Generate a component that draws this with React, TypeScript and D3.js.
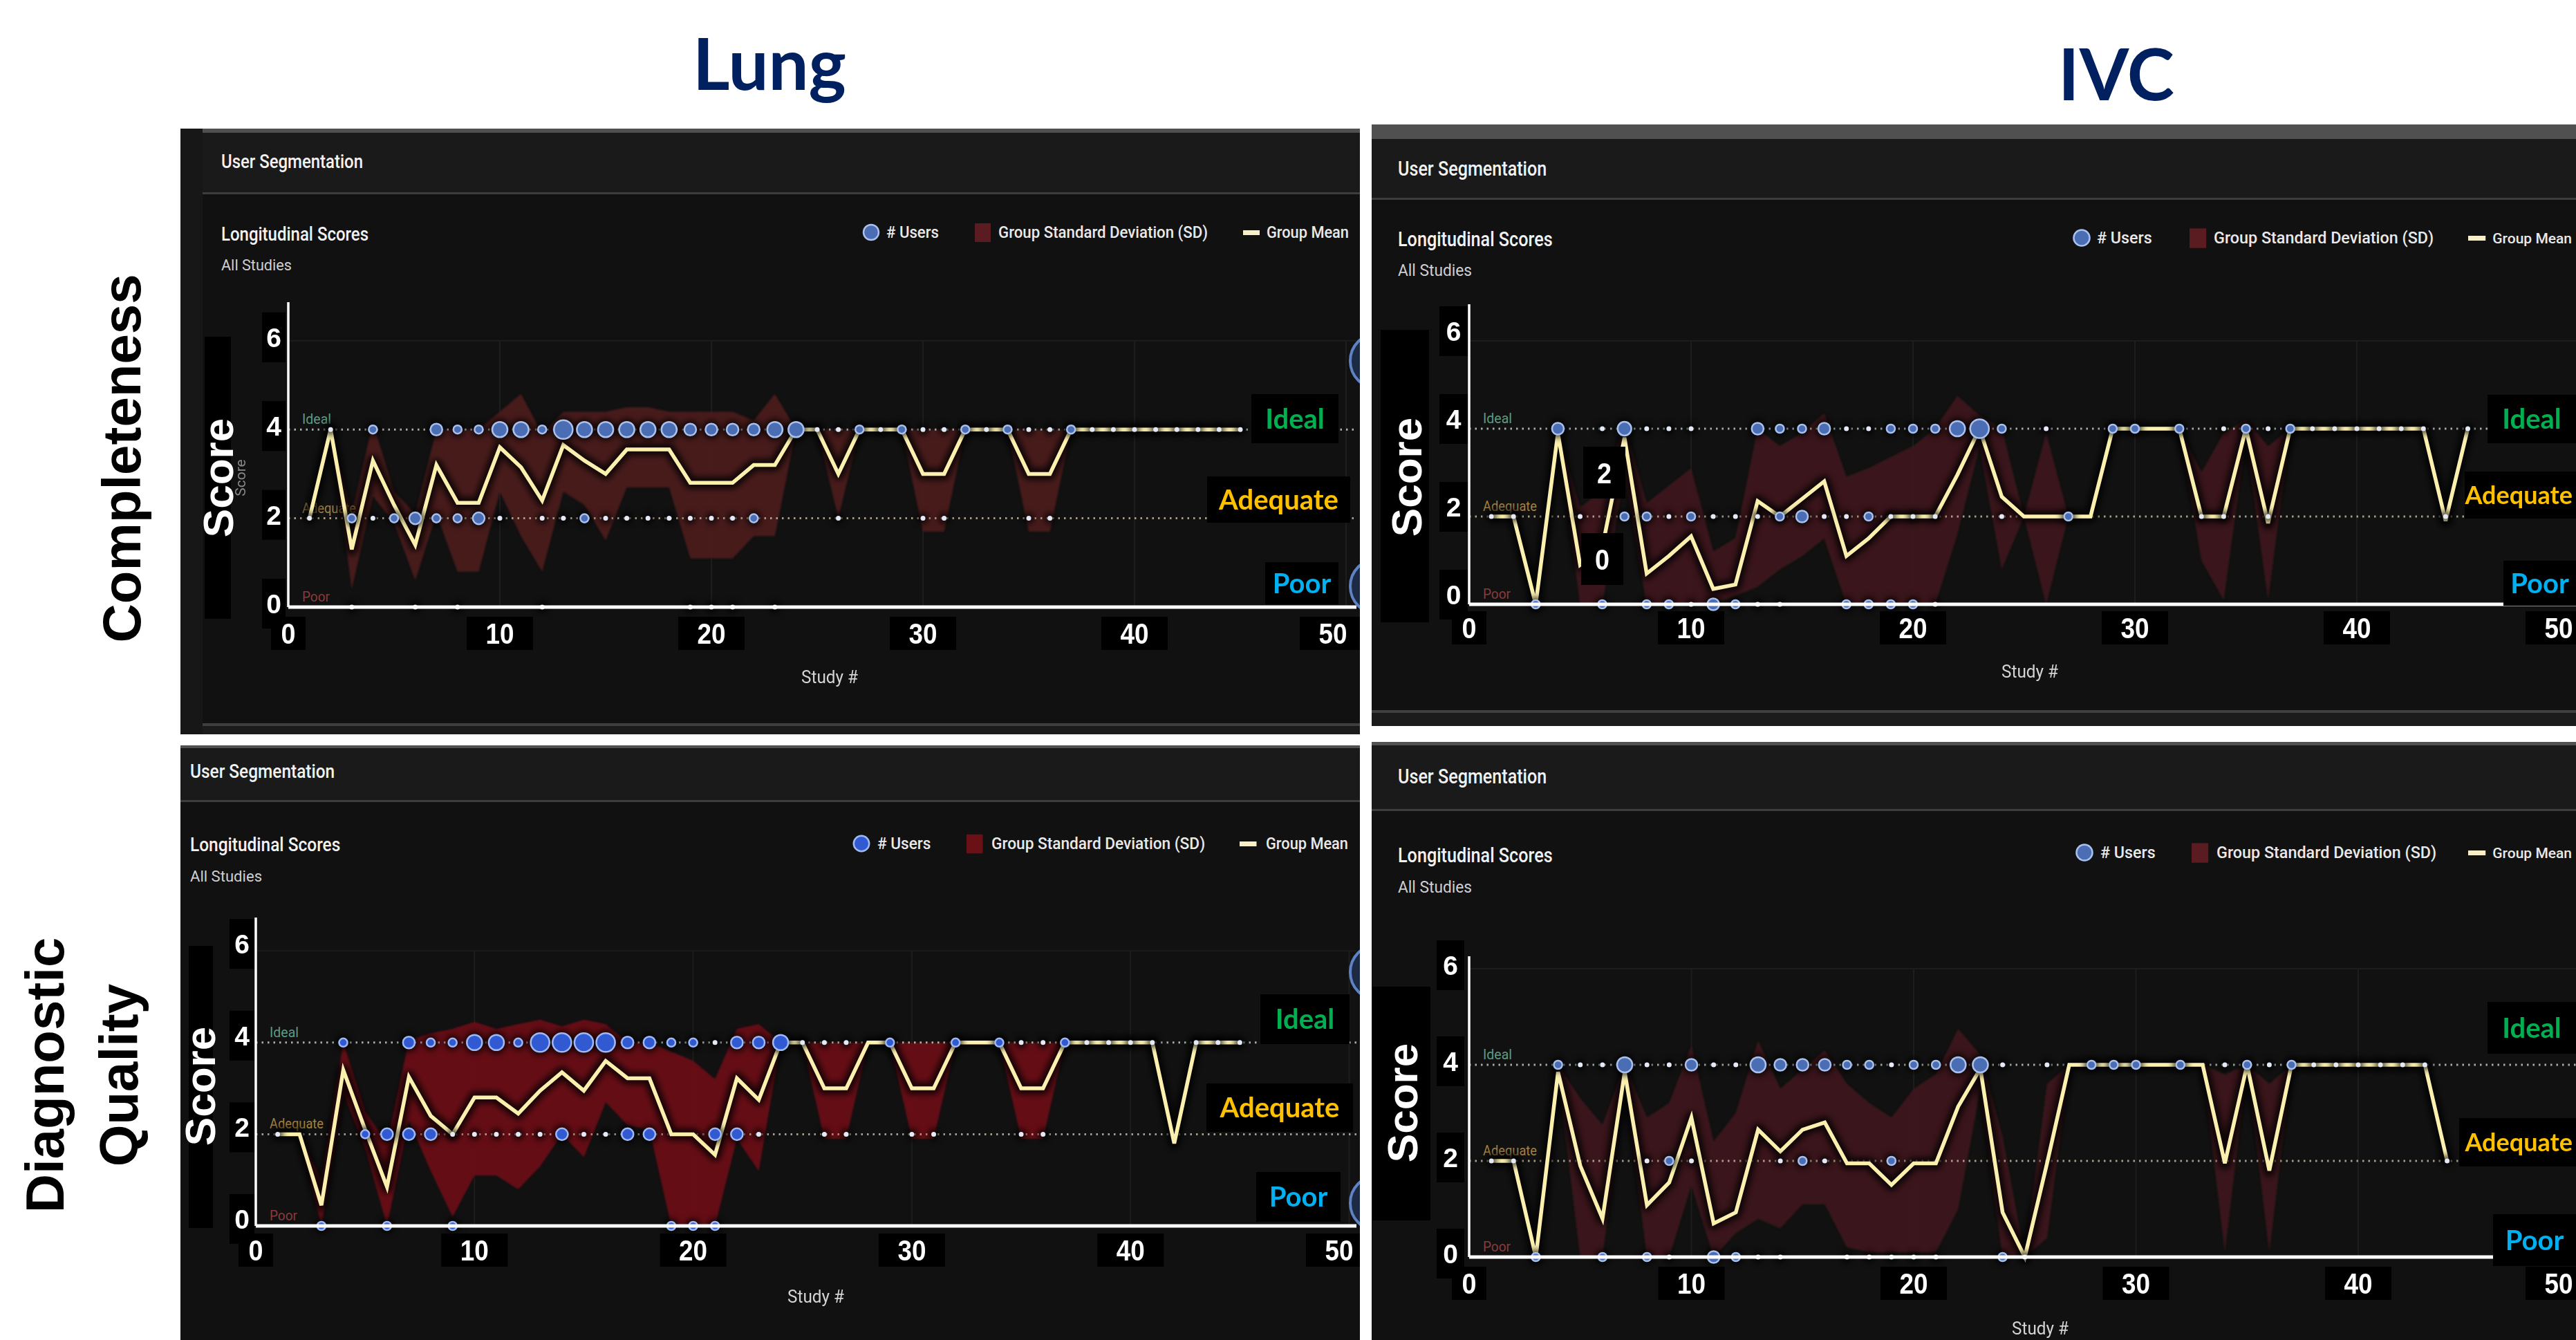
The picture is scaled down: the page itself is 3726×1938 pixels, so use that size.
import React from 'react';
import * as d3 from 'd3';

const W = 3726;
const H = 1938;

// ---------------- DATA (study # = index + 1) ----------------
// Lung – Completeness
const lungCompMean = [2.0, 4.0, 1.3, 3.3, 2.3, 1.4, 3.2, 2.35, 2.35, 3.6, 3.15, 2.4, 3.65, 3.3, 3.0, 3.55, 3.55, 3.55, 2.8, 2.8, 2.8, 3.2, 3.2, 4.0, 4.0, 3.0, 4.0, 4.0, 4.0, 3.0, 3.0, 4.0, 4.0, 4.0, 3.0, 3.0, 4.0, 4.0, 4.0, 4.0, 4.0, 4.0, 4.0, 4.0, 4.0];
const lungCompLo = [2.0, 4.0, 0.4, 2.5, 1.9, 0.6, 2.1, 0.8, 0.8, 2.6, 1.6, 0.8, 2.6, 2.3, 1.5, 2.7, 2.7, 2.7, 1.1, 1.1, 1.1, 1.6, 1.6, 4.0, 4.0, 2.0, 4.0, 4.0, 4.0, 1.7, 1.7, 4.0, 4.0, 4.0, 1.7, 1.7, 4.0, 4.0, 4.0, 4.0, 4.0, 4.0, 4.0, 4.0, 4.0];
const lungCompHi = [2.0, 4.0, 2.1, 4.15, 2.6, 2.1, 4.0, 4.0, 4.0, 4.4, 4.8, 3.9, 4.4, 4.4, 4.4, 4.5, 4.5, 4.4, 4.4, 4.4, 4.4, 4.2, 4.8, 4.0, 4.0, 4.0, 4.0, 4.0, 4.0, 4.0, 4.0, 4.0, 4.0, 4.0, 4.0, 4.0, 4.0, 4.0, 4.0, 4.0, 4.0, 4.0, 4.0, 4.0, 4.0];
const lungCompUsersIdeal = [0, 1, 0, 3, 0, 0, 6, 3, 3, 10, 10, 3, 15, 10, 10, 10, 10, 10, 6, 6, 6, 6, 10, 10, 1, 1, 3, 1, 3, 1, 1, 3, 1, 3, 1, 1, 3, 1, 1, 1, 1, 1, 1, 1, 1];
const lungCompUsersAdequate = [1, 0, 3, 1, 3, 6, 3, 3, 6, 1, 0, 1, 1, 3, 1, 1, 1, 1, 1, 1, 1, 3, 0, 0, 0, 1, 0, 0, 0, 1, 1, 0, 0, 0, 1, 1, 0, 0, 0, 0, 0, 0, 0, 0, 0];
const lungCompUsersPoor = [0, 0, 1, 0, 0, 1, 0, 1, 0, 0, 0, 1, 0, 0, 0, 0, 0, 0, 1, 1, 1, 0, 1, 0, 0, 0, 0, 0, 0, 0, 0, 0, 0, 0, 0, 0, 0, 0, 0, 0, 0, 0, 0, 0, 0];

// IVC – Completeness
const ivcCompMean = [2.0, 2.0, 0.0, 3.9, 0.9, 1.3, 3.8, 0.7, 1.1, 1.55, 0.35, 0.45, 2.35, 2.0, 2.4, 2.8, 1.1, 1.5, 2.0, 2.0, 2.0, 2.95, 4.0, 2.45, 2.0, 2.0, 2.0, 2.0, 4.0, 4.0, 4.0, 4.0, 2.0, 2.0, 4.0, 1.85, 4.0, 4.0, 4.0, 4.0, 4.0, 4.0, 4.0, 1.9, 4.0];
const ivcCompLo = [2.0, 2.0, 0.0, 3.9, 0.0, 0.0, 3.0, 0.0, 0.0, 0.0, 0.0, 0.2, 0.4, 0.8, 1.1, 1.5, 0.0, 0.0, 0.0, 0.0, 0.0, 1.6, 3.6, 0.8, 2.0, 0.0, 2.0, 2.0, 4.0, 4.0, 4.0, 4.0, 1.0, 0.1, 3.8, 0.1, 4.0, 4.0, 4.0, 4.0, 4.0, 4.0, 4.0, 1.9, 4.0];
const ivcCompHi = [2.0, 2.0, 0.0, 3.9, 2.2, 2.6, 4.1, 2.3, 2.7, 3.1, 1.2, 1.5, 4.0, 3.6, 3.9, 4.35, 2.9, 3.1, 3.35, 3.6, 4.0, 4.75, 4.3, 4.0, 2.0, 3.9, 2.0, 2.0, 4.0, 4.0, 4.0, 4.0, 3.0, 3.9, 4.2, 3.6, 4.0, 4.0, 4.0, 4.0, 4.0, 4.0, 4.0, 1.9, 4.0];
const ivcCompUsersIdeal = [0, 0, 0, 6, 0, 1, 8, 1, 1, 1, 0, 0, 6, 3, 3, 6, 1, 1, 3, 3, 3, 10, 15, 3, 0, 1, 0, 0, 3, 3, 0, 3, 0, 1, 3, 1, 3, 1, 1, 1, 1, 1, 1, 0, 1];
const ivcCompUsersAdequate = [1, 1, 0, 0, 1, 0, 3, 3, 1, 3, 1, 1, 1, 3, 6, 1, 1, 3, 1, 1, 1, 0, 0, 1, 0, 0, 3, 0, 0, 0, 0, 0, 1, 1, 0, 1, 0, 0, 0, 0, 0, 0, 0, 1, 0];
const ivcCompUsersPoor = [0, 0, 3, 0, 0, 3, 0, 3, 3, 1, 6, 3, 1, 1, 0, 0, 3, 3, 3, 3, 1, 0, 0, 0, 0, 0, 0, 0, 0, 0, 0, 0, 0, 0, 0, 0, 0, 0, 0, 0, 0, 0, 0, 0, 0];

// Lung – Diagnostic Quality
const lungDqMean = [2.0, 2.0, 0.45, 3.4, 2.1, 0.85, 3.25, 2.4, 2.0, 2.8, 2.8, 2.45, 2.95, 3.35, 2.95, 3.6, 3.22, 3.22, 2.0, 2.0, 1.55, 3.22, 2.75, 4.0, 4.0, 3.0, 3.0, 4.0, 4.0, 3.0, 3.0, 4.0, 4.0, 4.0, 3.0, 3.0, 4.0, 4.0, 4.0, 4.0, 4.0, 1.8, 4.0, 4.0, 4.0];
const lungDqLo = [2.0, 2.0, 0.0, 2.9, 1.7, 0.0, 2.3, 1.2, 0.2, 1.1, 1.1, 0.8, 1.3, 2.0, 1.5, 2.7, 2.2, 2.1, 0.0, 0.0, 0.0, 1.9, 1.2, 4.0, 4.0, 1.9, 1.9, 4.0, 4.0, 1.9, 1.9, 4.0, 4.0, 4.0, 1.9, 1.9, 4.0, 4.0, 4.0, 4.0, 4.0, 1.8, 4.0, 4.0, 4.0];
const lungDqHi = [2.0, 2.0, 1.0, 4.0, 2.5, 1.8, 4.05, 4.2, 4.3, 4.45, 4.3, 4.4, 4.5, 4.35, 4.5, 4.4, 4.0, 4.0, 3.8, 3.6, 3.2, 4.3, 4.4, 4.0, 4.0, 4.0, 4.0, 4.0, 4.0, 4.0, 4.0, 4.0, 4.0, 4.0, 4.0, 4.0, 4.0, 4.0, 4.0, 4.0, 4.0, 1.8, 4.0, 4.0, 4.0];
const lungDqUsersIdeal = [0, 0, 0, 3, 0, 0, 6, 3, 3, 10, 10, 3, 15, 15, 15, 15, 6, 6, 3, 3, 1, 6, 6, 10, 1, 1, 1, 0, 3, 0, 0, 3, 0, 3, 1, 1, 3, 1, 1, 1, 1, 0, 1, 1, 1];
const lungDqUsersAdequate = [1, 0, 0, 0, 3, 6, 6, 6, 1, 1, 1, 1, 1, 6, 1, 1, 6, 6, 0, 0, 6, 6, 1, 0, 0, 1, 1, 0, 0, 1, 1, 0, 0, 0, 1, 1, 0, 0, 0, 0, 0, 0, 0, 0, 0];
const lungDqUsersPoor = [0, 0, 3, 0, 0, 3, 0, 0, 3, 0, 0, 0, 0, 0, 0, 0, 0, 0, 3, 3, 3, 0, 0, 0, 0, 0, 0, 0, 0, 0, 0, 0, 0, 0, 0, 0, 0, 0, 0, 0, 0, 0, 0, 0, 0];

// IVC – Diagnostic Quality
const ivcDqMean = [2.0, 2.0, 0.0, 3.85, 1.9, 0.8, 3.85, 1.08, 1.55, 2.9, 0.7, 0.93, 2.65, 2.2, 2.65, 2.8, 1.95, 1.95, 1.5, 1.95, 1.95, 3.13, 3.92, 0.93, 0.0, 1.95, 4.0, 4.0, 4.0, 4.0, 4.0, 4.0, 4.0, 1.95, 4.0, 1.8, 4.0, 4.0, 4.0, 4.0, 4.0, 4.0, 4.0, 2.0];
const ivcDqLo = [2.0, 2.0, 0.0, 3.8, 0.0, 0.0, 3.7, 0.0, 0.0, 1.5, 0.0, 0.5, 0.8, 0.6, 1.1, 1.1, 0.2, 0.1, 0.1, 0.1, 0.1, 1.0, 3.5, 0.0, 0.0, 0.4, 4.0, 4.0, 4.0, 4.0, 4.0, 4.0, 4.0, 0.1, 4.0, 0.1, 4.0, 4.0, 4.0, 4.0, 4.0, 4.0, 4.0, 2.0];
const ivcDqHi = [2.0, 2.0, 0.0, 4.0, 3.3, 2.75, 4.0, 2.9, 3.2, 4.4, 2.4, 3.0, 4.5, 3.5, 3.9, 4.3, 3.6, 3.2, 2.9, 3.5, 3.8, 4.75, 4.2, 2.5, 0.0, 3.6, 4.0, 4.0, 4.0, 4.0, 4.0, 4.0, 4.0, 3.8, 4.0, 3.6, 4.0, 4.0, 4.0, 4.0, 4.0, 4.0, 4.0, 2.0];
const ivcDqUsersIdeal = [0, 0, 0, 3, 1, 1, 10, 1, 1, 6, 1, 1, 10, 6, 6, 6, 3, 3, 1, 3, 3, 10, 10, 1, 0, 1, 0, 3, 3, 3, 0, 3, 0, 1, 3, 1, 3, 1, 1, 1, 1, 1, 1, 0];
const ivcDqUsersAdequate = [1, 1, 0, 0, 0, 0, 0, 1, 3, 1, 0, 0, 0, 1, 3, 1, 0, 0, 3, 0, 0, 0, 0, 0, 0, 0, 0, 0, 0, 0, 0, 0, 0, 0, 0, 0, 0, 0, 0, 0, 0, 0, 0, 1];
const ivcDqUsersPoor = [0, 0, 3, 0, 0, 3, 0, 3, 1, 0, 6, 3, 1, 1, 0, 0, 1, 1, 1, 1, 1, 0, 0, 3, 1, 0, 0, 0, 0, 0, 0, 0, 0, 0, 0, 0, 0, 0, 0, 0, 0, 0, 0, 0];

const xTicks = [0, 10, 20, 30, 40, 50];
const yTicks = [0, 2, 4, 6];
const levelValues = [4, 2, 0];
const levelNames = ['Ideal', 'Adequate', 'Poor'];
const levelColors = ['#00b050', '#ffc000', '#00b0f0'];
const inlineColors = ['#5d9a84', '#a3803f', '#8a3a3c'];
const legendLabels = ['# Users', 'Group Standard Deviation (SD)', 'Group Mean'];
const columnTitles = ['Lung', 'IVC'];
const rowTitleTop = ['Completeness'];
const rowTitleBottom = ['Diagnostic', 'Quality'];

// ---------------- LAYOUT ----------------
type Box = [number, number, number, number];
type Cfg = {
  id: string; px: number; py: number; pw: number; ph: number; strip: number; topBand: number; headerBottom: number;
  bottomLine: number | null;
  textX: number; usBase: number; lsBase: number; asBase: number; s: number;
  legBase: number; legCx: number; legCy: number; usersX: number; sdSwX: number; sdTextX: number; meanSwX: number; meanTextX: number;
  x0: number; sp: number; y0: number; unit: number; axisTop: number; plotRight: number;
  scoreBox: Box; scoreBase: number; scoreCy: number; smallScore: boolean;
  yBoxX: number; yBoxW: number; yOff: number; xTickCy: number; lastTickX: number;
  studyX: number; studyY: number; boxes: Box[]; atEdge: boolean;
  band: string; bubble: string; bubbleStroke: string;
  edgeCircles: number[]; extraBoxes: { box: Box; label: string }[];
};

const cfgTL: Cfg = {
  id: 'tl', px: 261, py: 186, pw: 1706, ph: 876, strip: 32, topBand: 6, headerBottom: 278, bottomLine: 1046,
  textX: 320, usBase: 243, lsBase: 348, asBase: 391, s: 1,
  legBase: 344, legCx: 1260, legCy: 336, usersX: 1282, sdSwX: 1410, sdTextX: 1444, meanSwX: 1798, meanTextX: 1832,
  x0: 417, sp: 30.6, y0: 878, unit: 64.2, axisTop: 437, plotRight: 1962,
  scoreBox: [296, 487, 38, 408], scoreBase: 337, scoreCy: 691, smallScore: true,
  yBoxX: 379, yBoxW: 34, yOff: -5, xTickCy: 916, lastTickX: 1928,
  studyX: 1200, studyY: 988,
  boxes: [[1810, 570, 126, 71], [1746, 689, 207, 67], [1830, 813, 106, 61]], atEdge: false,
  band: '#4c1a1f', bubble: '#4a6db3', bubbleStroke: '#a9c1ec',
  edgeCircles: [522, 848], extraBoxes: [],
};
const cfgTR: Cfg = {
  id: 'tr', px: 1984, py: 180, pw: 1742, ph: 870, strip: 0, topBand: 21, headerBottom: 286, bottomLine: 1027,
  textX: 2022, usBase: 254, lsBase: 356, asBase: 399, s: 1.05,
  legBase: 352, legCx: 3011, legCy: 344, usersX: 3033, sdSwX: 3167, sdTextX: 3202, meanSwX: 3570, meanTextX: 3606,
  x0: 2125, sp: 32.1, y0: 874, unit: 63.5, axisTop: 440, plotRight: 3726,
  scoreBox: [1997, 477, 70, 423], scoreBase: 2056, scoreCy: 690, smallScore: false,
  yBoxX: 2082, yBoxW: 41, yOff: -14, xTickCy: 908, lastTickX: 3701,
  studyX: 2936, studyY: 980,
  boxes: [[3598, 571, 128, 70], [3565, 682, 161, 68], [3621, 811, 105, 65]], atEdge: true,
  band: '#3e191c', bubble: '#4a6db3', bubbleStroke: '#a9c1ec',
  edgeCircles: [], extraBoxes: [{ box: [2290, 646, 61, 75], label: '2' }, { box: [2287, 771, 61, 75], label: '0' }],
};
const cfgBL: Cfg = {
  id: 'bl', px: 261, py: 1078, pw: 1706, ph: 860, strip: 0, topBand: 4, headerBottom: 1157, bottomLine: null,
  textX: 275, usBase: 1125, lsBase: 1231, asBase: 1275, s: 1.02,
  legBase: 1228, legCx: 1246, legCy: 1220, usersX: 1269, sdSwX: 1398, sdTextX: 1434, meanSwX: 1793, meanTextX: 1831,
  x0: 370, sp: 31.63, y0: 1773, unit: 66.3, axisTop: 1327, plotRight: 1962,
  scoreBox: [273, 1368, 35, 408], scoreBase: 311, scoreCy: 1571, smallScore: false,
  yBoxX: 332, yBoxW: 36, yOff: -10, xTickCy: 1808, lastTickX: 1937,
  studyX: 1180, studyY: 1884,
  boxes: [[1823, 1438, 129, 72], [1745, 1567, 212, 70], [1817, 1695, 122, 72]], atEdge: false,
  band: '#6a1016', bubble: '#3159d2', bubbleStroke: '#9fb9f5',
  edgeCircles: [1406, 1740], extraBoxes: [],
};
const cfgBR: Cfg = {
  id: 'br', px: 1984, py: 1073, pw: 1742, ph: 865, strip: 0, topBand: 5, headerBottom: 1170, bottomLine: null,
  textX: 2022, usBase: 1133, lsBase: 1247, asBase: 1291, s: 1.05,
  legBase: 1241, legCx: 3015, legCy: 1233, usersX: 3038, sdSwX: 3170, sdTextX: 3206, meanSwX: 3570, meanTextX: 3612,
  x0: 2125, sp: 32.15, y0: 1818, unit: 69.5, axisTop: 1383, plotRight: 3726,
  scoreBox: [1985, 1427, 84, 338], scoreBase: 2050, scoreCy: 1595, smallScore: false,
  yBoxX: 2078, yBoxW: 40, yOff: -5, xTickCy: 1856, lastTickX: 3701,
  studyX: 2951, studyY: 1930,
  boxes: [[3598, 1449, 128, 75], [3557, 1617, 169, 70], [3606, 1756, 120, 75]], atEdge: true,
  band: '#3e191c', bubble: '#4a6db3', bubbleStroke: '#a9c1ec',
  edgeCircles: [], extraBoxes: [],
};

type Series = { mean: number[]; lo: number[]; hi: number[]; users: number[][] };

const ROBOTO = "Roboto, 'Noto Sans', sans-serif";
const ARIAL = "'Liberation Sans', Arial, sans-serif";
const LATO = "Lato, 'Open Sans', sans-serif";

function Panel({ c, d }: { c: Cfg; d: Series }) {
  const x = d3.scaleLinear().domain([0, 50]).range([c.x0, c.x0 + 50 * c.sp]);
  const y = d3.scaleLinear().domain([0, 6]).range([c.y0, c.y0 - 6 * c.unit]);
  const r = d3.scaleSqrt().domain([0, 16]).range([0, 14]);
  const study = d.mean.map((_, i) => i + 1);
  const line = d3.line<number>().x((_, i) => x(study[i])).y((v) => y(v));
  const area = d3
    .area<number>()
    .x((_, i) => x(study[i]))
    .y0((v) => y(v))
    .y1((_, i) => y(d.hi[i]));

  const dots: { cx: number; cy: number; r: number; n: number }[] = [];
  levelValues.forEach((lv, li) => {
    d.users[li].forEach((n, i) => {
      if (n > 0) dots.push({ cx: x(study[i]), cy: y(lv), r: r(n), n });
    });
  });
  dots.sort((a, b) => b.r - a.r);

  const right = c.px + c.pw;
  const inner = c.px + c.strip;
  const s = c.s;
  const clipId = `clip-${c.id}`;
  const plotClip = `pclip-${c.id}`;

  return (
    <g>
      <defs>
        <clipPath id={clipId}>
          <rect x={c.px} y={c.py} width={c.pw} height={c.ph} />
        </clipPath>
        <clipPath id={plotClip}>
          <rect x={c.x0 - 40} y={c.axisTop - 30} width={c.plotRight - c.x0 + 40} height={c.y0 - c.axisTop + 60} />
        </clipPath>
      </defs>
      <g clipPath={`url(#${clipId})`}>
        <rect x={c.px} y={c.py} width={c.pw} height={c.ph} fill="#131313" />
        {c.strip > 0 && <rect x={c.px} y={c.py} width={c.strip} height={c.ph} fill="#171717" />}
        <rect x={inner} y={c.py} width={c.pw - c.strip} height={c.topBand} fill="#505050" />
        <rect x={inner} y={c.py + c.topBand} width={c.pw - c.strip} height={c.headerBottom - c.py - c.topBand} fill="#1a1a1a" />
        <rect x={inner} y={c.headerBottom} width={c.pw - c.strip} height={3} fill="#3d3d3d" />
        <rect x={inner} y={c.headerBottom + 3} width={c.pw - c.strip} height={c.ph} fill="#111111" />
        {c.bottomLine !== null && (
          <g>
            <rect x={inner} y={c.bottomLine} width={c.pw - c.strip} height={4} fill="#3f3f3f" />
            <rect x={inner} y={c.bottomLine + 4} width={c.pw - c.strip} height={c.py + c.ph - c.bottomLine} fill="#1b1b1b" />
          </g>
        )}

        {/* header texts */}
        <text x={c.textX} y={c.usBase} fill="#f2f2f2" fontFamily={ROBOTO} fontWeight={500} fontSize={28 * s}
          textLength={205 * s} lengthAdjust="spacingAndGlyphs">User Segmentation</text>
        <text x={c.textX} y={c.lsBase} fill="#f2f2f2" fontFamily={ROBOTO} fontWeight={500} fontSize={28 * s}
          textLength={213 * s} lengthAdjust="spacingAndGlyphs">Longitudinal Scores</text>
        <text x={c.textX} y={c.asBase} fill="#cfcfcf" fontFamily={ROBOTO} fontSize={22 * s}
          textLength={102 * s} lengthAdjust="spacingAndGlyphs">All Studies</text>

        {/* legend */}
        <circle cx={c.legCx} cy={c.legCy} r={11 * s} fill={c.bubble} stroke={c.bubbleStroke} strokeWidth={2.5} />
        <text x={c.usersX} y={c.legBase} fill="#e9e9e9" fontFamily={ROBOTO} fontWeight={500} fontSize={23 * s}
          textLength={76 * s} lengthAdjust="spacingAndGlyphs">{legendLabels[0]}</text>
        <rect x={c.sdSwX} y={c.legCy - 13 * s} width={23 * s} height={27 * s} fill={c.band === '#6a1016' ? '#6a1016' : '#5a1c21'} />
        <text x={c.sdTextX} y={c.legBase} fill="#e9e9e9" fontFamily={ROBOTO} fontWeight={500} fontSize={23 * s}
          textLength={303 * s} lengthAdjust="spacingAndGlyphs">{legendLabels[1]}</text>
        <rect x={c.meanSwX} y={c.legCy - 3} width={24 * s} height={7} fill="#f8f0c4" />
        {c.atEdge ? (
          <text x={W - 6} y={c.legBase} textAnchor="end" fill="#e9e9e9" fontFamily={ROBOTO} fontWeight={500} fontSize={21}>
            {legendLabels[2]}
          </text>
        ) : (
          <text x={c.meanTextX} y={c.legBase} fill="#e9e9e9" fontFamily={ROBOTO} fontWeight={500} fontSize={23 * s}
            textLength={119} lengthAdjust="spacingAndGlyphs">{legendLabels[2]}</text>
        )}

        {/* grid */}
        {xTicks.filter((t) => t > 0).map((t) => (
          <line key={`gx${t}`} x1={x(t)} x2={x(t)} y1={y(6)} y2={c.y0} stroke="#1d1d1d" strokeWidth={2} />
        ))}
        <line x1={c.x0} x2={c.plotRight} y1={y(6)} y2={y(6)} stroke="#1d1d1d" strokeWidth={2} />

        <g clipPath={`url(#${plotClip})`}>
          {/* SD band */}
          <path d={area(d.lo) || ''} fill={c.band} opacity={0.95} filter="url(#soft)" />

          {/* reference dotted lines */}
          {levelValues.map((lv, li) => (
            <line key={`ref${lv}`} x1={c.x0} x2={c.plotRight} y1={y(lv)} y2={y(lv)}
              stroke={li === 0 ? '#c9d6d2' : li === 1 ? '#cdbfa6' : '#b59a9a'} strokeWidth={3} strokeDasharray="2.5 6" opacity={0.8} />
          ))}
          {levelValues.map((lv, li) => (
            <text key={`il${lv}`} x={c.x0 + 20} y={y(lv) - 8} fill={inlineColors[li]} fontFamily={ROBOTO} fontSize={21}
              textLength={li === 1 ? 78 : li === 0 ? 42 : 40} lengthAdjust="spacingAndGlyphs">{levelNames[li]}</text>
          ))}

          {/* mean line */}
          <path d={line(d.mean) || ''} fill="none" stroke="#000" strokeWidth={18} strokeOpacity={0.75} strokeLinejoin="round" filter="url(#blur)" />
          <path d={line(d.mean) || ''} fill="none" stroke="#fbf0ae" strokeWidth={5.5} strokeLinejoin="miter" />

          {/* bubbles */}
          <g filter="url(#blur)">
            {dots.map((p, i) => (
              <circle key={`sh${i}`} cx={p.cx} cy={p.cy} r={p.r + 5} fill="#000" opacity={0.7} />
            ))}
          </g>
          {dots.map((p, i) =>
            p.n <= 1 ? (
              <circle key={`d${i}`} cx={p.cx} cy={p.cy} r={p.r} fill="#e3e9f7" />
            ) : (
              <circle key={`d${i}`} cx={p.cx} cy={p.cy} r={p.r} fill={c.bubble} stroke={c.bubbleStroke} strokeWidth={2.5} />
            )
          )}
        </g>

        {/* axes */}
        <line x1={c.x0} x2={c.x0} y1={c.axisTop} y2={c.y0} stroke="#ffffff" strokeWidth={3.5} />
        <line x1={c.x0} x2={c.plotRight} y1={c.y0} y2={c.y0} stroke="#ffffff" strokeWidth={5} />

        {/* Score label */}
        <rect x={c.scoreBox[0]} y={c.scoreBox[1]} width={c.scoreBox[2]} height={c.scoreBox[3]} fill="#000" />
        {c.smallScore && (
          <text transform={`translate(${c.scoreBase + 18},${c.scoreCy}) rotate(-90)`} textAnchor="middle" fill="#8a8a8a"
            fontFamily={ROBOTO} fontSize={21}>Score</text>
        )}
        <text transform={`translate(${c.scoreBase},${c.scoreCy}) rotate(-90)`} textAnchor="middle" fill="#ffffff"
          fontFamily={ARIAL} fontWeight={700} fontSize={62}>Score</text>

        {/* y tick labels */}
        {yTicks.map((t) => (
          <g key={`yt${t}`}>
            <rect x={c.yBoxX} y={y(t) + c.yOff - 36} width={c.yBoxW} height={72} fill="#000" />
            <text x={c.yBoxX + c.yBoxW / 2} y={y(t) + c.yOff + 14} textAnchor="middle" fill="#fff" fontFamily={ARIAL}
              fontWeight={700} fontSize={39}>{t}</text>
          </g>
        ))}

        {/* x tick labels */}
        {xTicks.map((t) => {
          const w = t === 0 ? 50 : 96;
          const cx = t === 50 ? c.lastTickX : x(t);
          return (
            <g key={`xt${t}`}>
              <rect x={cx - w / 2} y={c.xTickCy - 24} width={w} height={48} fill="#000" />
              <text x={cx} y={c.xTickCy + 15} textAnchor="middle" fill="#fff" fontFamily={ARIAL} fontWeight={700}
                fontSize={42} textLength={t === 0 ? 21 : 41} lengthAdjust="spacingAndGlyphs">{t}</text>
            </g>
          );
        })}

        {c.extraBoxes.map((b, i) => (
          <g key={`eb${i}`}>
            <rect x={b.box[0]} y={b.box[1]} width={b.box[2]} height={b.box[3]} fill="#000" />
            <text x={b.box[0] + b.box[2] / 2} y={b.box[1] + b.box[3] / 2 + 15} textAnchor="middle" fill="#fff"
              fontFamily={ARIAL} fontWeight={700} fontSize={42} textLength={21} lengthAdjust="spacingAndGlyphs">{b.label}</text>
          </g>
        ))}

        <text x={c.studyX} y={c.studyY} textAnchor="middle" fill="#d4d4d4" fontFamily={ROBOTO} fontSize={26}
          textLength={82} lengthAdjust="spacingAndGlyphs">Study #</text>

        {/* category labels on the right */}
        {c.boxes.map((b, i) => {
          const fitEnd = c.atEdge && i === 1;
          return (
            <g key={`cb${i}`}>
              <rect x={b[0]} y={b[1]} width={b[2]} height={b[3]} fill="#000" />
              {fitEnd ? (
                <text x={W - 5} y={b[1] + b[3] / 2 + 13} textAnchor="end" fill={levelColors[i]} fontFamily={LATO}
                  fontWeight={700} fontSize={36}>{levelNames[i]}</text>
              ) : (
                <text x={b[0] + b[2] / 2} y={b[1] + b[3] / 2 + 14} textAnchor="middle" fill={levelColors[i]} fontFamily={LATO}
                  fontWeight={700} fontSize={40}>{levelNames[i]}</text>
              )}
            </g>
          );
        })}

        {c.edgeCircles.map((cy, i) => (
          <circle key={`ec${i}`} cx={right + 26} cy={cy} r={40} fill="#1d2a44" stroke="#5f82c4" strokeWidth={4} />
        ))}
      </g>
    </g>
  );
}

const seriesTL: Series = { mean: lungCompMean, lo: lungCompLo, hi: lungCompHi, users: [lungCompUsersIdeal, lungCompUsersAdequate, lungCompUsersPoor] };
const seriesTR: Series = { mean: ivcCompMean, lo: ivcCompLo, hi: ivcCompHi, users: [ivcCompUsersIdeal, ivcCompUsersAdequate, ivcCompUsersPoor] };
const seriesBL: Series = { mean: lungDqMean, lo: lungDqLo, hi: lungDqHi, users: [lungDqUsersIdeal, lungDqUsersAdequate, lungDqUsersPoor] };
const seriesBR: Series = { mean: ivcDqMean, lo: ivcDqLo, hi: ivcDqHi, users: [ivcDqUsersIdeal, ivcDqUsersAdequate, ivcDqUsersPoor] };

export default function App() {
  return (
    <svg width={W} height={H} viewBox={`0 0 ${W} ${H}`} style={{ position: 'absolute', left: 0, top: 0, display: 'block' }}>
      <defs>
        <filter id="blur" x="-20%" y="-20%" width="140%" height="140%">
          <feGaussianBlur stdDeviation="4" />
        </filter>
        <filter id="soft" x="-5%" y="-5%" width="110%" height="110%">
          <feGaussianBlur stdDeviation="1.5" />
        </filter>
      </defs>
      <rect x={0} y={0} width={W} height={H} fill="#ffffff" />

      <text x={1113} y={130} textAnchor="middle" fill="#002060" fontFamily={LATO} fontWeight={700} fontSize={103}>{columnTitles[0]}</text>
      <text x={3061} y={145} textAnchor="middle" fill="#002060" fontFamily={LATO} fontWeight={700} fontSize={103}>{columnTitles[1]}</text>

      <text transform="translate(203,663) rotate(-90)" textAnchor="middle" fill="#000" fontFamily={ARIAL} fontWeight={700} fontSize={78}>
        {rowTitleTop[0]}
      </text>
      <text transform="translate(92,1555) rotate(-90)" textAnchor="middle" fill="#000" fontFamily={ARIAL} fontWeight={700} fontSize={78}>
        {rowTitleBottom[0]}
      </text>
      <text transform="translate(199,1555) rotate(-90)" textAnchor="middle" fill="#000" fontFamily={ARIAL} fontWeight={700} fontSize={78}>
        {rowTitleBottom[1]}
      </text>

      <Panel c={cfgTL} d={seriesTL} />
      <Panel c={cfgTR} d={seriesTR} />
      <Panel c={cfgBL} d={seriesBL} />
      <Panel c={cfgBR} d={seriesBR} />
    </svg>
  );
}
